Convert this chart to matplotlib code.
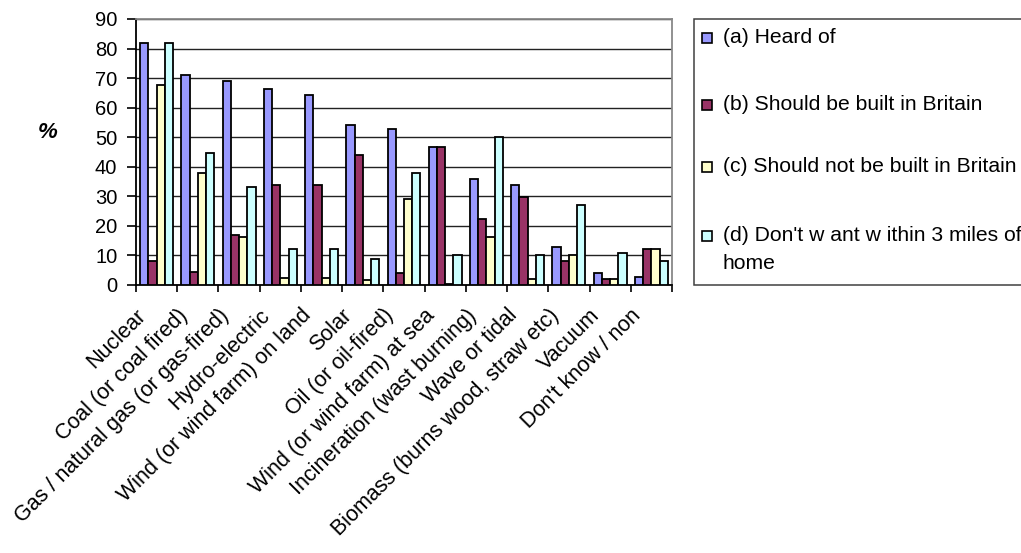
import matplotlib
matplotlib.use("Agg")
import matplotlib.pyplot as plt
import matplotlib.transforms as mtransforms
from matplotlib.patches import Rectangle
import numpy as np

plt.rcParams['font.family'] = ['Liberation Sans', 'DejaVu Sans']

# ---- data -------------------------------------------------------------
categories = [
    "Nuclear",
    "Coal (or coal fired)",
    "Gas / natural gas (or gas-fired)",
    "Hydro-electric",
    "Wind (or wind farm) on land",
    "Solar",
    "Oil (or oil-fired)",
    "Wind (or wind farm) at sea",
    "Incineration (wast burning)",
    "Wave or tidal",
    "Biomass (burns wood, straw etc)",
    "Vacuum",
    "Don't know / non",
]
heard_of         = [82, 71, 69, 66.3, 64.3, 54, 52.8, 46.8, 36, 34, 12.9, 4, 2.7]
should_build     = [8, 4.5, 16.8, 34, 34, 44, 4, 46.8, 22.3, 29.8, 8, 2, 12.2]
should_not_build = [67.8, 38, 16.2, 2.5, 2.5, 1.8, 29, 0.5, 16.2, 2, 10.1, 2, 12.2]
not_near_home    = [82, 44.7, 33.2, 12.2, 12.2, 8.8, 37.9, 10.1, 50.2, 10.1, 27, 10.7, 8]

series_labels = [
    "(a) Heard of",
    "(b) Should be built in Britain",
    "(c) Should not be built in Britain",
    "(d) Don't w ant w ithin 3 miles of\nhome",
]
y_ticks = list(range(0, 91, 10))

# ---- figure -----------------------------------------------------------
W, H = 1021, 553
fig = plt.figure(figsize=(W / 100, H / 100), dpi=100)
fig.patch.set_facecolor("white")


def fx(px):
    return px / W


def fy(py):
    return 1 - py / H


ax = fig.add_axes([fx(136), fy(285), (672 - 136) / W, (285 - 19) / H])

colors = ["#9999FF", "#993366", "#FFFFCC", "#CCFFFF"]
series = [heard_of, should_build, should_not_build, not_near_home]
x = np.arange(len(categories))
bw = 0.2
for i, (vals, col) in enumerate(zip(series, colors)):
    ax.bar(x + (i - 1.5) * bw, vals, bw, color=col, edgecolor="black",
           linewidth=1.3, zorder=3)

ax.set_xlim(-0.5, len(categories) - 0.5)
ax.set_ylim(0, 90)
ax.set_yticks(y_ticks)
ax.set_yticklabels([str(v) for v in y_ticks], fontsize=14.5)
ax.set_axisbelow(True)
ax.yaxis.grid(True, color="#222222", linewidth=1.0)

for side in ("left", "bottom"):
    ax.spines[side].set_color("black")
    ax.spines[side].set_linewidth(1.3)
for side in ("top", "right"):
    ax.spines[side].set_color("#888888")
    ax.spines[side].set_linewidth(1.3)

ax.tick_params(axis="y", direction="out", length=6.5, width=1.2, pad=7,
               colors="black")
ax.set_xticks(np.arange(-0.5, len(categories), 1), minor=True)
ax.tick_params(axis="x", which="minor", direction="out", length=5, width=1.2)
ax.set_xticks(x)
ax.set_xticklabels(categories, rotation=45, ha="right", va="top",
                   rotation_mode="anchor", fontsize=15.5)
ax.tick_params(axis="x", which="major", length=0, pad=0)
shift = mtransforms.ScaledTranslation(-21 / 100, -20 / 100, fig.dpi_scale_trans)
for lbl in ax.get_xticklabels():
    lbl.set_transform(lbl.get_transform() + shift)

fig.text(fx(48), fy(132), "%", fontsize=16, fontweight="bold",
         fontstyle="italic", ha="center", va="center")

# ---- legend box -------------------------------------------------------
fig.add_artist(Rectangle((fx(694), fy(285)), (1040 - 694) / W, (285 - 19) / H,
                         transform=fig.transFigure, facecolor="white",
                         edgecolor="#404040", linewidth=1.1))
row_y = [37.5, 104.5, 167, 235.5]
for lab, col, yy in zip(series_labels, colors, row_y):
    fig.add_artist(Rectangle((fx(702), fy(yy + 5)), 10 / W, 10 / H,
                             transform=fig.transFigure, facecolor=col,
                             edgecolor="black", linewidth=1.2))
    for k, line in enumerate(lab.split("\n")):
        fig.text(fx(722.5), fy(yy + k * 27.7), line, fontsize=15.2,
                 ha="left", va="center")

fig.savefig("out.png", dpi=100, facecolor="white")
